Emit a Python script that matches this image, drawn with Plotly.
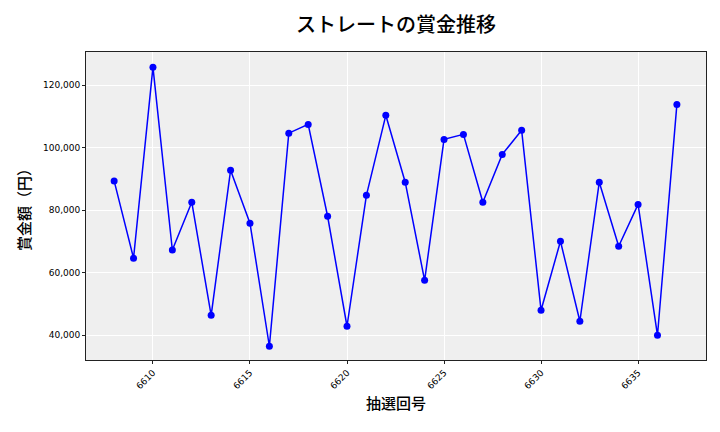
import plotly.graph_objects as go

draws = list(range(6608, 6638))
prizes = [89300, 64600, 125700, 67200, 82500, 46300, 92700, 75800, 36400, 104600,
          107400, 78000, 42800, 84700, 110300, 88900, 57500, 102600, 104200, 82500,
          97800, 105500, 47900, 70000, 44400, 88900, 68400, 81800, 39900, 113800]
x_ticks = [6610, 6615, 6620, 6625, 6630, 6635]
y_ticks = [40000, 60000, 80000, 100000, 120000]

fig = go.Figure()
fig.add_trace(go.Scatter(
    x=draws, y=prizes, mode="lines+markers",
    line=dict(color="#0000FF", width=1.5),
    marker=dict(color="#0000FF", size=7),
))

cjk = "Noto Sans CJK JP"
fig.update_layout(
    width=720, height=432,
    margin=dict(l=86, r=14, t=52, b=72),
    paper_bgcolor="white",
    plot_bgcolor="#EFEFEF",
    showlegend=False,
    title=dict(text="ストレートの賞金推移", x=396/720, xanchor="center",
               y=1 - 25/432, yanchor="middle",
               font=dict(family=cjk, size=20, color="black", weight=500)),
    xaxis=dict(
        range=[6606.55, 6638.5],
        tickvals=x_ticks, ticktext=[str(v) for v in x_ticks],
        tickangle=-45,
        tickfont=dict(family="DejaVu Sans", size=9, color="black"),
        showgrid=True, gridcolor="white", gridwidth=1,
        zeroline=False,
        showline=True, linecolor="#222", linewidth=1, mirror=True,
        ticks="outside", ticklen=3, tickcolor="#222",
        title=dict(text="抽選回号", font=dict(family=cjk, size=15, color="black", weight=500), standoff=8),
    ),
    yaxis=dict(
        range=[32000, 130560],
        tickvals=y_ticks, ticktext=[f"{v:,}" for v in y_ticks],
        tickfont=dict(family="DejaVu Sans", size=9, color="black"),
        showgrid=True, gridcolor="white", gridwidth=1,
        zeroline=False,
        showline=True, linecolor="#222", linewidth=1, mirror=True,
        ticks="outside", ticklen=3, tickcolor="#222",
        title=dict(text="賞金額（円）", font=dict(family=cjk, size=15, color="black", weight=500), standoff=8),
    ),
)

fig.write_html("out.html")
